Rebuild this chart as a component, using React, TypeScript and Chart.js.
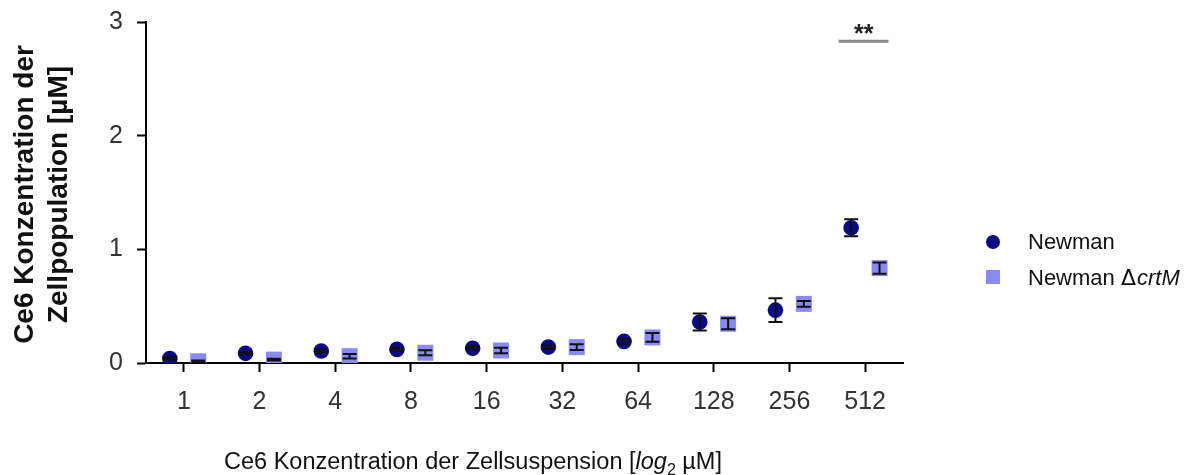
import React, { useEffect, useRef } from 'react';
import { Chart, registerables } from 'chart.js';

Chart.register(...registerables);

// ---- data ----
const categories = ['1', '2', '4', '8', '16', '32', '64', '128', '256', '512'];
const newmanMean = [0.04, 0.085, 0.105, 0.12, 0.13, 0.14, 0.19, 0.36, 0.465, 1.19];
const newmanErr = [0.01, 0.01, 0.012, 0.012, 0.012, 0.014, 0.02, 0.075, 0.105, 0.075];
const crtmMean = [0.015, 0.03, 0.06, 0.09, 0.11, 0.14, 0.225, 0.345, 0.52, 0.835];
const crtmErr = [0.006, 0.008, 0.02, 0.022, 0.024, 0.026, 0.038, 0.048, 0.025, 0.05];
const yTickValues = [0, 1, 2, 3];
const seriesLabels = ['Newman', 'Newman '];
const legendItalic = 'crtM';
const legendDelta = 'Δ';
const yTitleLines = ['Ce6 Konzentration der', 'Zellpopulation [µM]'];
const xTitleParts = ['Ce6 Konzentration der Zellsuspension [', 'log', '2', ' µM]'];
const sigLabel = '**';
const sigRange = [9.65, 10.31];
const sigLevel = 2.83;

const FONT = "'Liberation Sans', Arial, sans-serif";
const NAVY = '#0a0a84';
const LILAC = '#8a8af6';

const offsets = [-0.185, 0.19];

const decorPlugin = {
  id: 'decor',
  afterDatasetsDraw(chart: any) {
    const ctx = chart.ctx;
    const xs = chart.scales.x;
    const ys = chart.scales.y;
    const sets = [
      { mean: newmanMean, err: newmanErr, off: offsets[0] },
      { mean: crtmMean, err: crtmErr, off: offsets[1] },
    ];
    ctx.save();
    ctx.strokeStyle = '#111';
    ctx.lineWidth = 2;
    sets.forEach((s) => {
      s.mean.forEach((m, i) => {
        const px = xs.getPixelForValue(i + 1 + s.off);
        const top = ys.getPixelForValue(m + s.err[i]);
        const bot = ys.getPixelForValue(m - s.err[i]);
        ctx.beginPath();
        ctx.moveTo(px, top);
        ctx.lineTo(px, bot);
        ctx.moveTo(px - 7, top);
        ctx.lineTo(px + 7, top);
        ctx.moveTo(px - 7, bot);
        ctx.lineTo(px + 7, bot);
        ctx.stroke();
      });
    });
    ctx.restore();
  },
  afterDraw(chart: any) {
    const ctx = chart.ctx;
    const xs = chart.scales.x;
    const ys = chart.scales.y;
    ctx.save();
    // significance bar
    const sy = ys.getPixelForValue(sigLevel);
    ctx.strokeStyle = '#8a8a8a';
    ctx.lineWidth = 3;
    ctx.beginPath();
    ctx.moveTo(xs.getPixelForValue(sigRange[0]), sy);
    ctx.lineTo(xs.getPixelForValue(sigRange[1]), sy);
    ctx.stroke();
    ctx.fillStyle = '#222';
    ctx.font = `bold 25px ${FONT}`;
    ctx.textAlign = 'center';
    ctx.textBaseline = 'alphabetic';
    ctx.fillText(sigLabel, (xs.getPixelForValue(sigRange[0]) + xs.getPixelForValue(sigRange[1])) / 2, sy + 1);

    // y title
    ctx.fillStyle = '#111';
    ctx.font = `bold 28px ${FONT}`;
    const yc = (chart.chartArea.top + chart.chartArea.bottom) / 2 + 2;
    [33, 67].forEach((bx, i) => {
      ctx.save();
      ctx.translate(bx, yc);
      ctx.rotate(-Math.PI / 2);
      ctx.textAlign = 'center';
      ctx.fillText(yTitleLines[i], 0, 0);
      ctx.restore();
    });

    // x title
    const fonts = [`23.5px ${FONT}`, `italic 23.5px ${FONT}`, `16px ${FONT}`, `23.5px ${FONT}`];
    const dys = [0, 0, 6, 0];
    let total = 0;
    const widths = xTitleParts.map((t, i) => {
      ctx.font = fonts[i];
      const w = ctx.measureText(t).width;
      total += w;
      return w;
    });
    let x = 473 - total / 2;
    ctx.textAlign = 'left';
    xTitleParts.forEach((t, i) => {
      ctx.font = fonts[i];
      ctx.fillText(t, x, 469 + dys[i]);
      x += widths[i];
    });

    // legend
    ctx.fillStyle = NAVY;
    ctx.beginPath();
    ctx.arc(993, 242, 7, 0, Math.PI * 2);
    ctx.fill();
    ctx.fillStyle = LILAC;
    ctx.fillRect(986, 270, 14, 14);
    ctx.fillStyle = '#111';
    ctx.font = `22px ${FONT}`;
    ctx.fillText(seriesLabels[0], 1028, 249);
    ctx.fillText(seriesLabels[1], 1028, 285);
    let lx = 1028 + ctx.measureText(seriesLabels[1]).width;
    ctx.font = `22px 'DejaVu Sans', ${FONT}`;
    ctx.fillText(legendDelta, lx, 285);
    lx += ctx.measureText(legendDelta).width + 1;
    ctx.font = `italic 22px ${FONT}`;
    ctx.fillText(legendItalic, lx, 285);
    ctx.restore();
  },
};

export default function App() {
  const ref = useRef<HTMLCanvasElement | null>(null);
  useEffect(() => {
    if (!ref.current) return;
    const chart = new Chart(ref.current, {
      type: 'scatter',
      data: {
        datasets: [
          {
            label: seriesLabels[0],
            data: newmanMean.map((v, i) => ({ x: i + 1 + offsets[0], y: v })),
            pointStyle: 'circle',
            pointRadius: 7.8,
            pointHoverRadius: 7.8,
            backgroundColor: NAVY,
            borderWidth: 0,
          },
          {
            label: seriesLabels[1] + legendDelta + legendItalic,
            data: crtmMean.map((v, i) => ({ x: i + 1 + offsets[1], y: v })),
            pointStyle: 'rect',
            pointRadius: 11.3,
            pointHoverRadius: 11.3,
            backgroundColor: LILAC,
            borderWidth: 0,
          },
        ],
      },
      options: {
        responsive: false,
        animation: false,
        events: [],
        layout: { padding: { left: 0, top: 22, right: 299, bottom: 0 } },
        plugins: { legend: { display: false }, tooltip: { enabled: false } },
        scales: {
          x: {
            type: 'linear',
            min: 0.5,
            max: 10.5,
            afterFit: (s: any) => {
              s.height = 112;
              s.paddingLeft = 0;
              s.paddingRight = 0;
            },
            afterBuildTicks: (s: any) => {
              s.ticks = categories.map((_, i) => ({ value: i + 1 }));
            },
            border: { display: true, color: '#000', width: 2 },
            grid: { drawOnChartArea: false, drawTicks: true, tickLength: 9, tickColor: '#000', tickWidth: 2 },
            ticks: {
              autoSkip: false,
              maxRotation: 0,
              padding: 15,
              color: '#333',
              font: { family: FONT, size: 25 },
              callback: (v: any) => categories[Math.round(v) - 1] ?? '',
            },
          },
          y: {
            min: 0,
            max: 3,
            afterFit: (s: any) => {
              s.width = 146;
              s.paddingTop = 0;
              s.paddingBottom = 0;
            },
            afterBuildTicks: (s: any) => {
              s.ticks = yTickValues.map((v) => ({ value: v }));
            },
            border: { display: true, color: '#000', width: 2 },
            grid: { drawOnChartArea: false, drawTicks: true, tickLength: 9, tickColor: '#000', tickWidth: 2 },
            ticks: {
              padding: 14,
              color: '#333',
              font: { family: FONT, size: 25 },
              callback: (v: any) => String(v),
            },
          },
        },
      },
      plugins: [decorPlugin],
    });
    return () => chart.destroy();
  }, []);
  return (
    <div style={{ position: 'absolute', left: 0, top: 0, width: 1202, height: 475, background: '#fff' }}>
      <canvas ref={ref} width={1202} height={475} />
    </div>
  );
}
